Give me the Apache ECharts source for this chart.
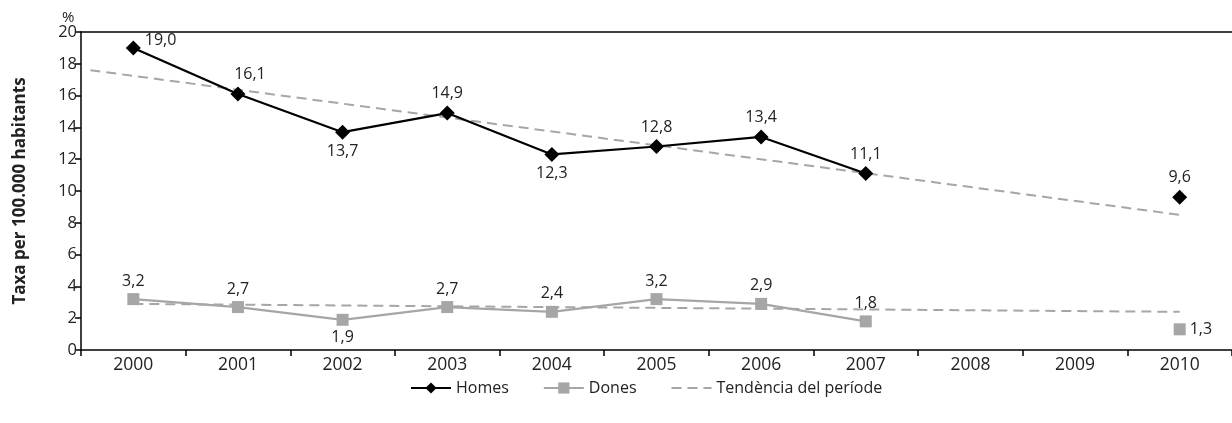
<!DOCTYPE html>
<html><head><meta charset="utf-8">
<script src="https://cdn.jsdelivr.net/npm/echarts@6/dist/echarts.min.js"></script>
<style>html,body{margin:0;padding:0;background:#fff}#c{width:1232px;height:423px}</style>
</head><body><div id="c"></div>
<script>
const categories = ['2000','2001','2002','2003','2004','2005','2006','2007','2008','2009','2010'];
const homes = [19.0, 16.1, 13.7, 14.9, 12.3, 12.8, 13.4, 11.1, null, null, 9.6];
const dones = [3.2, 2.7, 1.9, 2.7, 2.4, 3.2, 2.9, 1.8, null, null, 1.3];
const homesLabelPos = ['right','top','bottom','top','bottom','top','top','top',null,null,'top'];
const donesLabelPos = ['top','top','bottom','top','top','top','top','top',null,null,'right'];
// trend line end points [category index, value]
const homesTrend = [[-0.41, 17.6], [10, 8.5]];
const donesTrend = [[0, 2.9], [10, 2.4]];
const yTicks = [0, 2, 4, 6, 8, 10, 12, 14, 16, 18, 20];

const font = '"Open Sans", "Noto Sans", sans-serif';
const fmt = v => v.toFixed(1).replace('.', ',');

function pts(vals, pos) {
  return vals.map((v, i) => {
    if (v == null) return null;
    const lab = { show: true, position: pos[i], distance: 4 };
    if (i === 0 && pos[i] === 'right') lab.offset = [0, -7];
    if (i === 1 && vals === homes) lab.offset = [12, 0];
    return { value: v, label: lab };
  });
}

const chart = echarts.init(document.getElementById('c'));
chart.setOption({
  animation: false,
  textStyle: { fontFamily: font },
  grid: { left: 81, right: -4, top: 32, bottom: 73, containLabel: false },
  legend: {
    bottom: 22, left: 405, itemGap: 34, itemWidth: 40, itemHeight: 14,
    textStyle: { fontSize: 16, color: '#222', fontFamily: font },
    data: [
      { name: 'Homes' },
      { name: 'Dones' },
      { name: 'Tendència del període', itemStyle: { opacity: 0 } }
    ]
  },
  xAxis: [
    {
      type: 'category', data: categories, boundaryGap: true,
      axisLine: { onZero: false, lineStyle: { color: '#000', width: 1.5 } },
      axisTick: { show: true, length: 6, inside: false, lineStyle: { color: '#000', width: 1.5 } },
      axisLabel: { fontSize: 17.5, color: '#222', margin: 6, fontFamily: font }
    },
    {
      type: 'value', min: -0.5, max: 10.5, show: false
    },
    {
      type: 'category', position: 'top', data: categories,
      axisLine: { show: true, onZero: false, lineStyle: { color: '#000', width: 1.5 } },
      axisTick: { show: false }, axisLabel: { show: false }
    }
  ],
  yAxis: {
    type: 'value', min: 0, max: 20, interval: 2,
    name: 'Taxa per 100.000 habitants', nameLocation: 'middle', nameGap: 52, nameRotate: 90,
    nameTextStyle: { fontSize: 17, fontWeight: 'bold', color: '#222', fontFamily: font },
    axisLine: { show: true, onZero: false, lineStyle: { color: '#000', width: 1.5 } },
    axisTick: { show: true, length: 6, lineStyle: { color: '#000', width: 1.5 } },
    axisLabel: { fontSize: 16.5, color: '#222', margin: 4, fontFamily: font,
      formatter: v => yTicks.includes(v) ? String(v) : '' },
    splitLine: { show: false }
  },
  graphic: [{ type: 'text', left: 62, top: 10, style: { text: '%', fontSize: 15, fill: '#222', fontFamily: font } }],
  series: [
    {
      name: 'Tendència del període', type: 'line', xAxisIndex: 1, data: homesTrend,
      symbol: 'none', lineStyle: { color: '#a6a6a6', width: 2, type: [10, 6] },
      itemStyle: { color: '#a6a6a6' }, z: 1
    },
    {
      name: 'Tendència del període', type: 'line', xAxisIndex: 1, data: donesTrend,
      symbol: 'none', lineStyle: { color: '#a6a6a6', width: 2, type: [10, 6] },
      itemStyle: { color: '#a6a6a6' }, z: 1
    },
    {
      name: 'Homes', type: 'line', data: pts(homes, homesLabelPos),
      symbol: 'diamond', symbolSize: 15, showAllSymbol: true,
      lineStyle: { color: '#000', width: 2.2 }, itemStyle: { color: '#000' },
      label: { fontSize: 16, color: '#222', fontFamily: font, formatter: p => fmt(p.value) },
      z: 3
    },
    {
      name: 'Dones', type: 'line', data: pts(dones, donesLabelPos),
      symbol: 'rect', symbolSize: 12, showAllSymbol: true,
      lineStyle: { color: '#a6a6a6', width: 2.2 }, itemStyle: { color: '#a6a6a6' },
      label: { fontSize: 16, color: '#222', fontFamily: font, formatter: p => fmt(p.value) },
      z: 2
    }
  ]
});
</script></body></html>
